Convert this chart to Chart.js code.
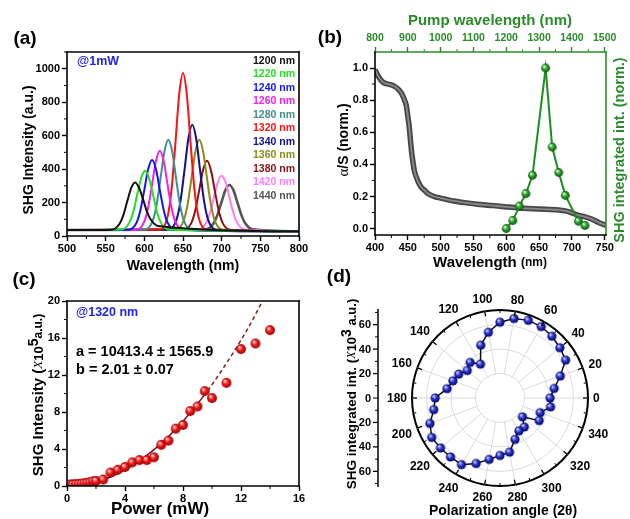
<!DOCTYPE html>
<html>
<head>
<meta charset="utf-8">
<script src="https://cdn.jsdelivr.net/npm/chart.js@4.4.1/dist/chart.umd.min.js"></script>
<style>
  body { margin: 0; background: #fff; }
  #fig { position: relative; width: 630px; height: 519px; background: #fff; overflow: hidden; }
  #fig canvas { position: absolute; }
</style>
</head>
<body>
<div id="fig">
  <canvas id="pa" width="315" height="280" style="left:0;top:0;width:315px;height:280px"></canvas>
  <canvas id="pb" width="315" height="280" style="left:315px;top:0;width:315px;height:280px"></canvas>
  <canvas id="pc" width="315" height="259" style="left:0;top:260px;width:315px;height:259px"></canvas>
  <canvas id="pd" width="315" height="259" style="left:315px;top:260px;width:315px;height:259px"></canvas>
</div>
<script>
// ---------- (a) SHG spectra at 1 mW ----------
const pumpLabels = ['1200 nm', '1220 nm', '1240 nm', '1260 nm', '1280 nm', '1320 nm',
                    '1340 nm', '1360 nm', '1380 nm', '1420 nm', '1440 nm'];
const peakCenters = [588, 601, 610, 620, 631, 650, 662, 671, 681, 700, 710];
// sample offsets (nm) around each peak centre
const peakOffsets = [-30, -20, -15, -10, -5, 0, 5, 10, 15, 20, 30];
const spec1200 = [38, 73, 126, 209, 286, 320, 290, 225, 150, 100, 60];
const spec1220 = [39, 83, 149, 252, 347, 390, 347, 252, 149, 83, 39];
const spec1240 = [38, 81, 156, 276, 400, 455, 400, 276, 156, 81, 38];
const spec1260 = [38, 87, 172, 308, 448, 510, 448, 308, 172, 87, 38];
const spec1280 = [39, 94, 190, 346, 505, 575, 505, 346, 190, 94, 39];
const spec1320 = [39, 115, 270, 543, 843, 975, 843, 543, 270, 115, 39];
const spec1340 = [39, 104, 216, 397, 583, 665, 583, 397, 216, 104, 39];
const spec1360 = [39, 94, 190, 346, 505, 575, 505, 346, 190, 94, 39];
const spec1380 = [38, 80, 155, 274, 396, 450, 396, 274, 155, 80, 38];
const spec1420 = [39, 79, 139, 233, 321, 360, 321, 233, 139, 79, 39];
const spec1440 = [40, 79, 132, 206, 276, 305, 276, 206, 132, 79, 40];
const baseline = [36, 28];               // signal level at 500 nm and 800 nm
const aTicksX = [500, 550, 600, 650, 700, 750, 800];
const aTicksY = [0, 200, 400, 600, 800, 1000];

// ---------- (b) absorption and SHG vs pump ----------
const absWl = [400, 405, 410, 415, 420, 425, 430, 435, 440, 445, 448, 450, 452, 454, 456, 458, 460, 463, 466, 470,
               475, 480, 490, 500, 520, 540, 560, 580, 600, 620, 640, 660, 680, 690, 700, 710, 720, 730, 740, 752];
const absVal = [0.99, 0.95, 0.92, 0.905, 0.9, 0.895, 0.885, 0.87, 0.845, 0.80, 0.76, 0.70, 0.64, 0.55, 0.47, 0.41, 0.36, 0.32, 0.29, 0.26,
                0.24, 0.22, 0.20, 0.19, 0.172, 0.16, 0.15, 0.143, 0.135, 0.128, 0.124, 0.12, 0.116, 0.11, 0.098, 0.082, 0.073, 0.06, 0.04, 0.02];
const shgWl = [600, 610, 620, 630, 640, 660, 670, 680, 690, 710, 720];
const shgVal = [0.0, 0.05, 0.14, 0.218, 0.332, 1.0, 0.508, 0.349, 0.207, 0.046, 0.019];
const bTicksX = [400, 450, 500, 550, 600, 650, 700, 750];
const bTicksTop = [800, 900, 1000, 1100, 1200, 1300, 1400, 1500];
const bTicksY = [0, 0.2, 0.4, 0.6, 0.8, 1.0];

// ---------- (c) power dependence at 1320 nm ----------
const powerMW = [0.2, 0.4, 0.6, 0.8, 1.0, 1.2, 1.4, 1.6, 1.8, 2.0, 2.5, 3.0, 3.5, 4.0, 4.5, 5.0, 5.5, 6.0, 6.5, 7.0,
                 7.5, 8.0, 8.5, 9.0, 9.5, 10, 11, 12, 13, 14];
const shgPow = [0.15, 0.17, 0.2, 0.22, 0.25, 0.3, 0.35, 0.4, 0.5, 0.55, 0.7, 1.45, 1.75, 2.05, 2.55, 2.8, 2.8, 3.1, 4.45, 4.9,
                6.2, 6.6, 8.1, 8.6, 10.25, 9.5, 11.15, 14.8, 15.4, 16.85];
const fitP = [0, 1, 2, 3, 4, 5, 6, 7, 8, 9, 9.7];
const fitS = [0, 0.107, 0.43, 0.97, 1.74, 2.72, 3.93, 5.36, 7.01, 8.88, 10.3];
const dashP = [9.7, 10.5, 11.5, 12.5, 13.45];
const dashS = [10.3, 12.1, 14.5, 17.1, 19.9];
const cTicksX = [0, 4, 8, 12, 16];
const cTicksY = [0, 4, 8, 12, 16, 20];

// ---------- (d) polarization dependence ----------
const polarAngles = [0, 10, 20, 30, 40, 50, 60, 70, 80, 90, 100, 110, 120, 130, 140, 150, 160, 170,
                     180, 190, 200, 210, 220, 230, 240, 250, 260, 270, 280, 290, 300, 310, 320, 330, 340, 350];
const polarVals = [41, 45, 52.5, 62, 64, 66, 67.5, 67.6, 66, 62, 54.6, 46, 32, 38, 35, 39, 41, 44,
                   53, 55, 61, 64.5, 63.6, 63, 63, 57, 51, 47, 45, 36, 31, 31, 24, 37, 35, 42];
const dTicksR = [0, 20, 40, 60];
const dAngleLabels = [0, 20, 40, 60, 80, 100, 120, 140, 160, 180, 200, 220, 240, 260, 280, 300, 320, 340];

// ---------- styles ----------
const SANS = "'Liberation Sans', Arial, sans-serif";
const SERIF = "'Liberation Serif', 'DejaVu Serif', serif";
const f = (size, style) => `${style || 'bold'} ${size}px ${SANS}`;
const GREEN = '#2a8c2a';
const BLUE = '#2424e6';
const pumpColors = ['#111111', '#22e022', '#1414f0', '#f020f0', '#3f8f8f', '#ff1010',
                    '#10108a', '#8c8c14', '#8a1010', '#ff7cff', '#555555'];

Chart.defaults.font.family = SANS;
Chart.defaults.font.weight = 'bold';
Chart.defaults.color = '#000';
Chart.defaults.animation = false;
Chart.defaults.events = [];
Chart.defaults.plugins.legend.display = false;
Chart.defaults.plugins.tooltip.enabled = false;

const mids = arr => arr.slice(1).map((v, i) => (v + arr[i]) / 2);
const pairs = (xs, ys) => xs.map((x, i) => ({ x, y: ys[i] }));

// shaded sphere used as point marker
function ball(r, hi, mid, lo) {
  const c = document.createElement('canvas');
  c.width = c.height = Math.ceil(r * 2) + 2;
  const g = c.getContext('2d');
  const m = c.width / 2;
  const grad = g.createRadialGradient(m - r * 0.35, m - r * 0.4, r * 0.1, m, m, r);
  grad.addColorStop(0, hi);
  grad.addColorStop(0.45, mid);
  grad.addColorStop(1, lo);
  g.fillStyle = grad;
  g.beginPath();
  g.arc(m, m, r, 0, Math.PI * 2);
  g.fill();
  return c;
}

// free text (labels, titles), optionally rotated and made of several runs
function notes(items) {
  return {
    id: 'notes',
    afterDraw(chart) {
      const ctx = chart.ctx;
      items.forEach(it => {
        const runs = it.parts || [{ t: it.text }];
        ctx.save();
        ctx.translate(it.x, it.y);
        if (it.rot) ctx.rotate(it.rot * Math.PI / 180);
        ctx.textBaseline = 'middle';
        ctx.textAlign = 'left';
        let w = 0;
        runs.forEach(r => { ctx.font = r.font || it.font; w += ctx.measureText(r.t).width; });
        let x = it.align === 'left' ? 0 : -w / 2;
        runs.forEach(r => {
          ctx.font = r.font || it.font;
          ctx.fillStyle = r.color || it.color || '#000';
          ctx.fillText(r.t, x, r.dy || 0);
          x += ctx.measureText(r.t).width;
        });
        ctx.restore();
      });
    }
  };
}

// box round the plot area plus short minor ticks
function frame(cols, minors) {
  return {
    id: 'frame',
    afterDatasetsDraw(chart) {
      const { ctx, chartArea: a, scales } = chart;
      ctx.save();
      ctx.lineWidth = 1.6;
      ctx.lineCap = 'square';
      const side = (c, x1, y1, x2, y2) => {
        ctx.strokeStyle = c;
        ctx.beginPath(); ctx.moveTo(x1, y1); ctx.lineTo(x2, y2); ctx.stroke();
      };
      side(cols[0], a.left, a.top, a.right, a.top);
      side(cols[1], a.right, a.top, a.right, a.bottom);
      side(cols[2], a.left, a.bottom, a.right, a.bottom);
      side(cols[3], a.left, a.top, a.left, a.bottom);
      ctx.lineCap = 'butt';
      ctx.lineWidth = 1;
      minors.forEach(m => {
        const s = scales[m.id];
        ctx.strokeStyle = m.color || '#000';
        m.values.forEach(v => {
          const p = s.getPixelForValue(v);
          ctx.beginPath();
          if (s.position === 'bottom') { ctx.moveTo(p, a.bottom); ctx.lineTo(p, a.bottom + 3); }
          else if (s.position === 'top') { ctx.moveTo(p, a.top); ctx.lineTo(p, a.top - 3); }
          else { ctx.moveTo(a.left, p); ctx.lineTo(a.left - 3, p); }
          ctx.stroke();
        });
      });
      ctx.restore();
    }
  };
}

function axis(min, max, ticks, opts) {
  opts = opts || {};
  return Object.assign({
    type: 'linear', min, max,
    afterBuildTicks: s => { s.ticks = ticks.map(v => ({ value: v })); },
    grid: { drawOnChartArea: false, tickLength: 5, tickColor: opts.color || '#000', tickWidth: 1.4 },
    border: { display: false },
    ticks: { color: opts.color || '#000', font: { size: opts.size || 11, weight: 'bold' }, padding: opts.pad == null ? 2 : opts.pad,
             autoSkip: false, maxRotation: 0, callback: opts.fmt || (v => String(v)) }
  }, opts.extra || {});
}

// ---------- (a) ----------
const spectra = [spec1200, spec1220, spec1240, spec1260, spec1280, spec1320,
                 spec1340, spec1360, spec1380, spec1420, spec1440];
const legendA = pumpLabels.map((t, i) => ({ text: t, x: 253, y: 61 + 13.5 * i, font: f(10.5), color: pumpColors[i], align: 'left' }));

new Chart(document.getElementById('pa'), {
  type: 'scatter',
  data: {
    datasets: spectra.map((vals, k) => ({
      data: [{ x: 500, y: baseline[0] }]
        .concat(peakOffsets.map((o, i) => ({ x: peakCenters[k] + o, y: vals[i] })))
        .concat([{ x: 800, y: baseline[1] }]),
      showLine: true, borderColor: pumpColors[k], borderWidth: k === 10 ? 2.6 : 2, pointRadius: 0,
      cubicInterpolationMode: 'monotone'
    }))
  },
  options: {
    responsive: false, devicePixelRatio: 1,
    layout: { padding: { top: 52, right: 16, left: 0, bottom: 0 } },
    scales: {
      x: axis(500, 800, aTicksX, { pad: 1, extra: { afterFit: s => { s.height = 44; } } }),
      y: axis(0, 1100, aTicksY, { extra: { afterFit: s => { s.width = 67; } } })
    }
  },
  plugins: [
    frame(['#000', '#000', '#000', '#000'], [{ id: 'x', values: mids(aTicksX) }, { id: 'y', values: mids(aTicksY).concat([1100]) }]),
    notes([
      { text: '(a)', x: 25, y: 39, font: f(19) },
      { text: '@1mW', x: 77, y: 62, font: f(12.5), color: BLUE, align: 'left' },
      { text: 'SHG Intensity (a.u.)', x: 29, y: 150, rot: -90, font: f(14) },
      { text: 'Wavelength (nm)', x: 183, y: 266, font: f(14) }
    ].concat(legendA))
  ]
});

// ---------- (b) ----------
new Chart(document.getElementById('pb'), {
  type: 'scatter',
  data: {
    datasets: [
      { data: pairs(shgWl, shgVal), yAxisID: 'y2', showLine: true, borderColor: '#1e8c1e', borderWidth: 2,
        pointStyle: ball(4.4, '#d8ffd8', '#2fa82f', '#0b520b'), pointRadius: 4 },
      { data: pairs(absWl, absVal), showLine: true, borderColor: '#8a8a8a', borderWidth: 1.8, pointRadius: 0,
        cubicInterpolationMode: 'monotone' },
      { data: pairs(absWl, absVal), showLine: true, borderColor: '#474747', borderWidth: 5.5, pointRadius: 0,
        cubicInterpolationMode: 'monotone' }
    ]
  },
  options: {
    responsive: false, devicePixelRatio: 1,
    layout: { padding: 0 },
    scales: {
      x: axis(400, 752, bTicksX, { pad: 1, extra: { position: 'bottom', afterFit: s => { s.height = 45; } } }),
      x2: axis(800, 1504, bTicksTop, { color: GREEN, size: 10.5, pad: 3, extra: { position: 'top', afterFit: s => { s.height = 52; } } }),
      y: axis(-0.04, 1.1, bTicksY, { fmt: v => v.toFixed(1), extra: { position: 'left', afterFit: s => { s.width = 60; } } }),
      y2: { type: 'linear', position: 'right', min: -0.04, max: 1.1, ticks: { display: false }, grid: { display: false },
            border: { display: false }, afterFit: s => { s.width = 24; } }
    }
  },
  plugins: [
    frame([GREEN, GREEN, '#000', '#000'], [
      { id: 'x', values: mids(bTicksX) },
      { id: 'x2', values: mids(bTicksTop), color: GREEN },
      { id: 'y', values: mids(bTicksY) }
    ]),
    notes([
      { text: '(b)', x: 15, y: 38, font: f(19) },
      { text: 'Pump wavelength (nm)', x: 175, y: 21, font: f(15), color: GREEN },
      { x: 29, y: 140, rot: -90, parts: [{ t: 'α', font: `15px ${SERIF}` }, { t: '/S (norm.)', font: f(14) }] },
      { text: 'SHG integrated int. (norm.)', x: 305, y: 150, rot: -90, font: f(14.5), color: GREEN },
      { x: 175, y: 263, parts: [{ t: 'Wavelength ', font: f(15) }, { t: '(nm)', font: f(12) }] }
    ])
  ]
});

// ---------- (c) ----------
new Chart(document.getElementById('pc'), {
  type: 'scatter',
  data: {
    datasets: [
      { data: pairs(powerMW, shgPow), pointStyle: ball(4.9, '#ffd0d0', '#f02020', '#9a0000'), pointRadius: 4 },
      { data: pairs(fitP, fitS), showLine: true, borderColor: '#6e1414', borderWidth: 1.5, pointRadius: 0,
        cubicInterpolationMode: 'monotone' },
      { data: pairs(dashP, dashS), showLine: true, borderColor: '#8b1c1c', borderWidth: 1.5, borderDash: [4, 3],
        pointRadius: 0, cubicInterpolationMode: 'monotone' }
    ]
  },
  options: {
    responsive: false, devicePixelRatio: 1,
    layout: { padding: { top: 41, right: 16, left: 0, bottom: 0 } },
    scales: {
      x: axis(0, 16, cTicksX, { pad: 1, extra: { afterFit: s => { s.height = 33; } } }),
      y: axis(0, 20, cTicksY, { extra: { afterFit: s => { s.width = 67; } } })
    }
  },
  plugins: [
    frame(['#000', '#000', '#000', '#000'], [{ id: 'x', values: mids(cTicksX) }, { id: 'y', values: mids(cTicksY) }]),
    notes([
      { text: '(c)', x: 24, y: 20, font: f(19) },
      { text: '@1320 nm', x: 76, y: 53, font: f(12.5), color: BLUE, align: 'left' },
      { text: 'a = 10413.4 ± 1565.9', x: 76, y: 92, font: f(14.5), align: 'left' },
      { text: 'b = 2.01 ± 0.07', x: 76, y: 110, font: f(14.5), align: 'left' },
      { x: 39, y: 135, rot: -90, parts: [
        { t: 'SHG Intensity (', font: f(15) },
        { t: 'X', font: `italic 13px ${SERIF}` },
        { t: '10', font: f(13) },
        { t: '5', font: f(14), dy: -5 },
        { t: 'a.u.)', font: f(12) }
      ] },
      { text: 'Power (mW)', x: 160, y: 249, font: f(17) }
    ])
  ]
});

// ---------- (d) ----------
// radar runs clockwise from the top; list the angles in that order
const radarAngles = polarAngles.map((_, i) => (450 - 10 * i) % 360);
const radarVals = radarAngles.map(a => polarVals[polarAngles.indexOf(a)]);
const R_MAX = 72;

const polarDecor = {
  id: 'polarDecor',
  beforeDatasetsDraw(chart) {
    // spokes start at the first grid circle
    const s = chart.scales.r, ctx = chart.ctx;
    const r1 = s.getDistanceFromCenterForValue(dTicksR[1]);
    ctx.save();
    ctx.fillStyle = '#fff';
    ctx.beginPath();
    ctx.arc(s.xCenter, s.yCenter, r1 - 0.7, 0, Math.PI * 2);
    ctx.fill();
    ctx.restore();
  },
  afterDraw(chart) {
    const s = chart.scales.r, ctx = chart.ctx;
    const R = s.getDistanceFromCenterForValue(s.max);
    ctx.save();
    ctx.strokeStyle = '#000';
    radarAngles.forEach((a, i) => {
      const big = a % 20 === 0;
      const p1 = s.getPointPosition(i, R), p2 = s.getPointPosition(i, R - (big ? 5 : 3));
      ctx.lineWidth = big ? 1.3 : 1;
      ctx.beginPath(); ctx.moveTo(p1.x, p1.y); ctx.lineTo(p2.x, p2.y); ctx.stroke();
    });
    ctx.font = f(12);
    ctx.fillStyle = '#000';
    ctx.textAlign = 'center';
    ctx.textBaseline = 'middle';
    radarAngles.forEach((a, i) => {
      if (!dAngleLabels.includes(a)) return;
      const txt = String(a), w = ctx.measureText(txt).width;
      const u = s.getPointPosition(i, 1);
      const ux = u.x - s.xCenter, uy = u.y - s.yCenter;
      const p = s.getPointPosition(i, R + 5 + Math.abs(ux) * w / 2 + Math.abs(uy) * 6);
      ctx.fillText(txt, p.x, p.y + 1);
    });
    // mirrored radial axis on the left
    const x0 = 63, yc = s.yCenter;
    ctx.lineWidth = 1.5;
    ctx.beginPath(); ctx.moveTo(x0, yc - R - 1); ctx.lineTo(x0, yc + R + 1); ctx.stroke();
    for (let v = 10; v <= 70; v += 10) {
      const d = s.getDistanceFromCenterForValue(v), len = v % 20 === 0 ? 5 : 3;
      ctx.lineWidth = v % 20 === 0 ? 1.3 : 1;
      [-1, 1].forEach(sg => { ctx.beginPath(); ctx.moveTo(x0, yc + sg * d); ctx.lineTo(x0 - len, yc + sg * d); ctx.stroke(); });
    }
    ctx.beginPath(); ctx.moveTo(x0, yc); ctx.lineTo(x0 - 5, yc); ctx.stroke();
    ctx.font = f(11);
    ctx.textAlign = 'right';
    dTicksR.forEach(v => {
      const d = s.getDistanceFromCenterForValue(v);
      ctx.fillText(String(v), x0 - 7, yc - d + 0.5);
      if (v) ctx.fillText(String(v), x0 - 7, yc + d + 0.5);
    });
    ctx.restore();
  }
};

new Chart(document.getElementById('pd'), {
  type: 'radar',
  data: {
    labels: radarAngles,
    datasets: [{
      data: radarVals, borderColor: '#111', borderWidth: 1.5, fill: false,
      pointStyle: ball(4.6, '#c8d0ff', '#2a36c8', '#00006a'), pointRadius: 4
    }]
  },
  options: {
    responsive: false, devicePixelRatio: 1,
    layout: { padding: { left: 97, right: 42, top: 50, bottom: 33 } },
    scales: {
      r: {
        min: 0, max: R_MAX, startAngle: 0,
        ticks: { display: false, stepSize: 20 },
        pointLabels: { display: false },
        grid: { circular: true, color: c => c.tick.value >= R_MAX ? '#000' : '#dadada',
                lineWidth: c => c.tick.value >= R_MAX ? 2 : 1 },
        angleLines: { color: '#dadada', lineWidth: c => radarAngles[c.index] % 20 === 0 ? 1 : 0 }
      }
    }
  },
  plugins: [
    polarDecor,
    notes([
      { text: '(d)', x: 24, y: 17, font: f(19) },
      { x: 37, y: 134, rot: -90, parts: [
        { t: 'SHG integrated int. (', font: f(13.5) },
        { t: 'X', font: `italic 12px ${SERIF}` },
        { t: '10', font: f(13) },
        { t: '3', font: f(14), dy: -5 },
        { t: ' a.u.)', font: f(13) }
      ] },
      { x: 188, y: 251, parts: [
        { t: 'Polarization angle (2', font: f(14) },
        { t: 'θ', font: `bold 14px ${SERIF}` },
        { t: ')', font: f(14) }
      ] }
    ])
  ]
});
</script>
</body>
</html>
